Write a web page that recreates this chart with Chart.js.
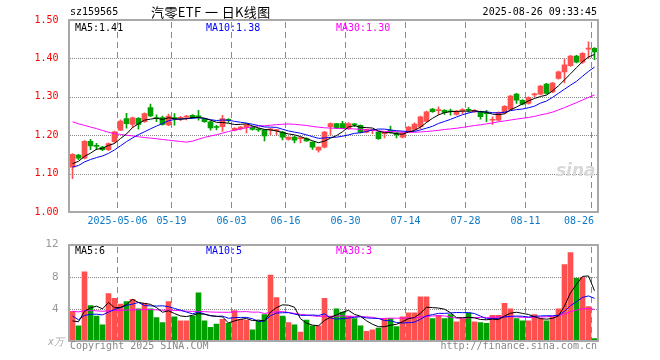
<!DOCTYPE html>
<html><head><meta charset="utf-8">
<script src="https://cdn.jsdelivr.net/npm/chart.js@4"></script>
<style>
html,body{margin:0;padding:0;background:#fff;width:660px;height:360px;overflow:hidden}
#wrap{position:relative;width:660px;height:360px}
canvas{position:absolute;left:0}
.t{position:absolute;font-family:"DejaVu Sans Mono",monospace;font-size:10px;line-height:12px;white-space:nowrap;color:#000}
</style></head><body>
<div id="wrap">
<canvas id="main" width="660" height="235" style="top:0;width:660px;height:235px"></canvas>
<canvas id="vol" width="660" height="125" style="top:235px;width:660px;height:125px"></canvas>
<div class="t" style="left:70px;top:6px">sz159565</div>
<div class="t" style="left:151px;top:4px;font-family:'Noto Sans CJK SC',sans-serif;font-size:13px;line-height:16px;letter-spacing:0.4px">汽零ETF 一 日K线图</div>
<div class="t" style="right:63px;top:6px">2025-08-26 09:33:45</div>
<div class="t" style="left:70px;top:340px;color:#888">Copyright 2025 SINA.COM</div>
<div class="t" style="right:63px;top:340px;color:#888">http://finance.sina.com.cn</div>
<div class="t" style="left:48px;top:336px;color:#aaa;font-style:italic">x万</div>
<div class="t" style="left:556px;top:160px;color:#d8d8d8;font-family:'DejaVu Sans',sans-serif;font-size:17px;font-weight:bold;font-style:italic;line-height:20px">sina</div>
</div>
<script>
const categories = ['04-21','04-22','04-23','04-24','04-25','04-28','04-29','04-30',
'05-06','05-07','05-08','05-09','05-12','05-13','05-14','05-15','05-16','05-19','05-20','05-21','05-22','05-23','05-26','05-27','05-28','05-29','05-30',
'06-03','06-04','06-05','06-06','06-09','06-10','06-11','06-12','06-13','06-16','06-17','06-18','06-19','06-20','06-23','06-24','06-25','06-26','06-27','06-30',
'07-01','07-02','07-03','07-04','07-07','07-08','07-09','07-10','07-11','07-14','07-15','07-16','07-17','07-18','07-21','07-22','07-23','07-24','07-25','07-28','07-29','07-30','07-31',
'08-01','08-04','08-05','08-06','08-07','08-08','08-11','08-12','08-13','08-14','08-15','08-18','08-19','08-20','08-21','08-22','08-25','08-26'];

const openP = [1.117,1.148,1.140,1.184,1.172,1.169,1.162,1.183,1.213,1.243,1.228,1.244,1.235,1.272,1.244,1.246,1.227,1.244,1.244,1.247,1.252,1.249,1.242,1.235,1.221,1.222,1.240,
1.213,1.217,1.220,1.221,1.215,1.214,1.214,1.212,1.208,1.189,1.195,1.191,1.191,1.182,1.161,1.169,
1.222,1.230,1.230,1.217,1.228,1.226,1.208,1.212,1.208,1.204,1.213,1.206,1.195,1.211,1.215,1.222,1.236,1.268,1.264,1.265,1.262,1.254,1.264,1.266,1.261,1.261,1.257,
1.239,1.239,1.258,1.267,1.307,1.291,1.283,1.305,1.307,1.333,1.313,1.348,1.365,1.381,1.406,1.390,1.424,1.426];
const closeP = [1.150,1.140,1.184,1.172,1.171,1.162,1.178,1.209,1.237,1.230,1.245,1.228,1.256,1.250,1.243,1.228,1.250,1.243,1.245,1.248,1.246,1.248,1.235,1.219,1.220,1.243,1.239,
1.218,1.221,1.227,1.215,1.214,1.198,1.215,1.213,1.195,1.195,1.187,1.192,1.185,1.169,1.169,1.208,
1.230,1.219,1.219,1.230,1.227,1.208,1.215,1.213,1.191,1.207,1.207,1.201,1.206,1.221,1.229,1.248,1.261,1.261,1.265,1.259,1.261,1.263,1.265,1.265,1.265,1.248,1.256,
1.240,1.259,1.275,1.302,1.291,1.281,1.298,1.306,1.328,1.309,1.336,1.365,1.383,1.406,1.390,1.413,1.426,1.417];
const highP = [1.152,1.150,1.186,1.189,1.179,1.171,1.180,1.211,1.240,1.257,1.247,1.246,1.258,1.281,1.253,1.250,1.255,1.256,1.249,1.252,1.254,1.265,1.244,1.237,1.226,1.252,1.243,
1.220,1.223,1.229,1.223,1.217,1.215,1.217,1.215,1.210,1.196,1.197,1.194,1.193,1.183,1.170,1.210,
1.232,1.231,1.236,1.233,1.230,1.227,1.216,1.215,1.210,1.209,1.224,1.208,1.208,1.223,1.232,1.250,1.263,1.270,1.274,1.267,1.268,1.265,1.269,1.272,1.267,1.263,1.265,
1.248,1.261,1.277,1.304,1.309,1.293,1.300,1.310,1.330,1.335,1.338,1.367,1.398,1.408,1.408,1.415,1.443,1.428];
const lowP = [1.087,1.136,1.138,1.162,1.162,1.160,1.160,1.180,1.212,1.218,1.220,1.216,1.233,1.248,1.235,1.226,1.225,1.226,1.238,1.240,1.244,1.239,1.233,1.213,1.214,1.210,1.233,
1.211,1.214,1.206,1.213,1.210,1.185,1.201,1.200,1.188,1.187,1.180,1.180,1.184,1.163,1.156,1.167,
1.200,1.217,1.217,1.215,1.222,1.206,1.206,1.204,1.189,1.193,1.205,1.193,1.193,1.209,1.213,1.217,1.234,1.259,1.254,1.254,1.252,1.252,1.256,1.260,1.259,1.242,1.235,
1.228,1.237,1.256,1.265,1.283,1.279,1.281,1.300,1.305,1.307,1.311,1.346,1.336,1.379,1.388,1.387,1.400,1.397];
const volume = [3.7,1.9,8.6,4.4,3.1,2.0,5.9,5.3,4.6,4.9,5.2,4.0,4.7,4.0,2.9,2.3,4.9,3.0,2.5,2.5,3.1,6.0,2.5,1.7,2.1,2.7,2.2,
3.8,2.7,2.6,1.4,2.5,3.3,8.2,5.4,3.1,2.3,2.0,1.1,2.6,1.9,1.9,5.3,
3.1,4.0,3.6,3.1,2.8,1.9,1.2,1.4,1.6,2.8,2.8,1.8,3.0,3.5,3.5,5.5,5.5,2.8,3.2,2.8,3.3,2.4,2.8,3.5,2.4,2.3,2.2,
3.2,3.2,4.7,4.0,2.8,2.5,2.5,3.3,2.8,2.5,3.0,4.0,9.5,11.0,7.8,7.9,4.3,0.3];
// closes / volumes of the 29 sessions before the first visible bar (estimated so the averages start where the picture shows)
const priorClose = [1.30,1.31,1.30,1.29,1.31,1.32,1.31,1.30,1.30,1.29,1.30,1.31,1.30,1.29,1.29,1.30,1.30,1.29,1.30,
1.17,1.10,1.09,1.11,1.12,1.12,1.11,1.12,1.13,1.12];
const priorVolume = [4.2,3.8,4.5,3.6,4.1,3.9,4.4,3.7,4.0,4.3,3.8,4.1,3.6,4.2,3.9,4.0,4.3,3.7,4.1,3.8,
6.5,3.2,3.0,2.9,2.9,2.4,2.1,2.3,2.0];
const tickIndex = [8,17,27,36,46,56,66,76,87];
const tickLabels = ['2025-05-06','05-19','06-03','06-16','06-30','07-14','07-28','08-11','08-26'];
const priceTicks = [1.00,1.10,1.20,1.30,1.40,1.50];
const volTicks = [0,4,8,12];

const RED='#ff5050', GREEN='#00a000', GRID='#8a8a8a';
const MONO='"DejaVu Sans Mono", monospace';
function ma(prior, arr, n){
  const all = prior.concat(arr);
  return arr.map((_,i)=>{const e=prior.length+i; let s=0; for(let k=e-n+1;k<=e;k++) s+=all[k]; return s/n;});
}
const up = closeP.map((c,i)=> c>=openP[i]);
const cols = up.map(u=>u?RED:GREEN);
const pm5=ma(priorClose,closeP,5), pm10=ma(priorClose,closeP,10), pm30=ma(priorClose,closeP,30);
const vm5=ma(priorVolume,volume,5), vm10=ma(priorVolume,volume,10), vm30=ma(priorVolume,volume,30);
const last=a=>a[a.length-1];

function framePlugin(cfg){
  return {id:'frame'+cfg.id,
  beforeDatasetsDraw(chart){
    const {ctx, chartArea:a} = chart;
    const L=Math.round(a.left), R=Math.round(a.right), T=Math.round(a.top), B=Math.round(a.bottom);
    const xs=chart.scales.x, ys=chart.scales.y;
    ctx.save();
    ctx.fillStyle=GRID;
    for(let k=0;k<cfg.hticks.length;k++){
      const y=Math.round(ys.getPixelForValue(cfg.hticks[k]));
      for(let x=L;x<R;x+=2) ctx.fillRect(x,y,1,1);
    }
    for(let k=0;k<tickIndex.length;k++){
      const x=Math.floor(xs.getPixelForValue(tickIndex[k])-3);
      for(let y=T+2;y<B-1;y+=10) ctx.fillRect(x,y,1,Math.min(6,B-1-y));
    }
    ctx.restore();
  },
  afterDraw(chart){
    const {ctx, chartArea:a} = chart;
    const L=Math.round(a.left), R=Math.round(a.right), T=Math.round(a.top), B=Math.round(a.bottom);
    const xs=chart.scales.x;
    ctx.save();
    ctx.fillStyle='#a8a8a8';
    ctx.fillRect(L-2,T-1,2,B-T+2); ctx.fillRect(R-1,T-1,2,B-T+2);
    ctx.fillRect(L-2,T-1,R-L+3,2); ctx.fillRect(L-2,B-1,R-L+3,2);
    ctx.font='10px '+MONO; ctx.textBaseline='middle'; ctx.textAlign='left';
    cfg.items.forEach(it=>{ctx.fillStyle=it.c; ctx.fillText(it.t, it.x, T+cfg.dy);});
    if(cfg.xlabels){
      ctx.fillStyle='#0a78c8'; ctx.textAlign='center';
      tickIndex.forEach((idx,k)=>{
        let x=xs.getPixelForValue(idx)-3; const w=ctx.measureText(tickLabels[k]).width;
        if(x+w/2>R-4) x=R-4-w/2;
        ctx.fillText(tickLabels[k], x, B+9);
      });
    }
    ctx.restore();
  }};
}
const xScale = (show)=>({
  type:'category', offset:true, display:true,
  grid:{display:false}, border:{display:false}, ticks:{display:false},
  afterFit:(s)=>{s.height=show?23:0;}
});

new Chart(document.getElementById('main'),{
  data:{labels:categories, datasets:[
    {type:'line',data:pm5,borderColor:'#000',borderWidth:1,pointRadius:0,order:0},
    {type:'line',data:pm10,borderColor:'#0000ff',borderWidth:1,pointRadius:0,order:0},
    {type:'line',data:pm30,borderColor:'#ff00ff',borderWidth:1,pointRadius:0,order:0},
    {type:'bar',data:openP.map((o,i)=>[o,closeP[i]]),backgroundColor:cols,barThickness:5,minBarLength:1,grouped:false,order:1},
    {type:'bar',data:lowP.map((l,i)=>[l,highP[i]]),backgroundColor:cols,barThickness:1,grouped:false,order:2}
  ]},
  options:{responsive:false,animation:false,devicePixelRatio:1,
    layout:{padding:{left:0,right:62.5,top:20,bottom:0}},
    plugins:{legend:{display:false},tooltip:{enabled:false}},
    scales:{
      x:xScale(true),
      y:{min:priceTicks[0],max:last(priceTicks),
        afterBuildTicks:(s)=>{s.ticks=priceTicks.map(v=>({value:v}));},
        afterFit:(s)=>{s.width=69.5;},
        grid:{display:false}, border:{display:false},
        ticks:{color:'#ff0000',font:{family:MONO,size:10},padding:3,callback:(v)=>Number(v).toFixed(2)}}
    }},
  plugins:[framePlugin({id:'m',dy:8,xlabels:true,hticks:priceTicks.slice(1,-1),items:[
    {t:'MA5:'+last(pm5).toFixed(2),c:'#000',x:75},
    {t:'MA10:'+last(pm10).toFixed(2),c:'#0000ff',x:206},
    {t:'MA30:'+last(pm30).toFixed(2),c:'#ff00ff',x:336}]})]
});

new Chart(document.getElementById('vol'),{
  data:{labels:categories, datasets:[
    {type:'line',data:vm5,borderColor:'#000',borderWidth:1,pointRadius:0,order:0},
    {type:'line',data:vm10,borderColor:'#0000ff',borderWidth:1,pointRadius:0,order:0},
    {type:'line',data:vm30,borderColor:'#ff00ff',borderWidth:1,pointRadius:0,order:0},
    {type:'bar',data:volume,backgroundColor:cols,barThickness:5,grouped:false,order:1}
  ]},
  options:{responsive:false,animation:false,devicePixelRatio:1,
    layout:{padding:{left:0,right:62.5,top:5,bottom:19}},
    plugins:{legend:{display:false},tooltip:{enabled:false}},
    scales:{
      x:xScale(false),
      y:{min:volTicks[0],max:last(volTicks),
        afterBuildTicks:(s)=>{s.ticks=volTicks.map(v=>({value:v}));},
        afterFit:(s)=>{s.width=69.5;},
        grid:{display:false}, border:{display:false},
        ticks:{color:'#999',font:{family:MONO,size:11},padding:3,callback:(v)=>v===0?'':String(v)}}
    }},
  plugins:[framePlugin({id:'v',dy:6,xlabels:false,hticks:volTicks.slice(1,-1),items:[
    {t:'MA5:'+Math.floor(last(vm5)),c:'#000',x:75},
    {t:'MA10:'+Math.floor(last(vm10)),c:'#0000ff',x:206},
    {t:'MA30:'+Math.floor(last(vm30)),c:'#ff00ff',x:336}]})]
});
</script>
</body></html>
